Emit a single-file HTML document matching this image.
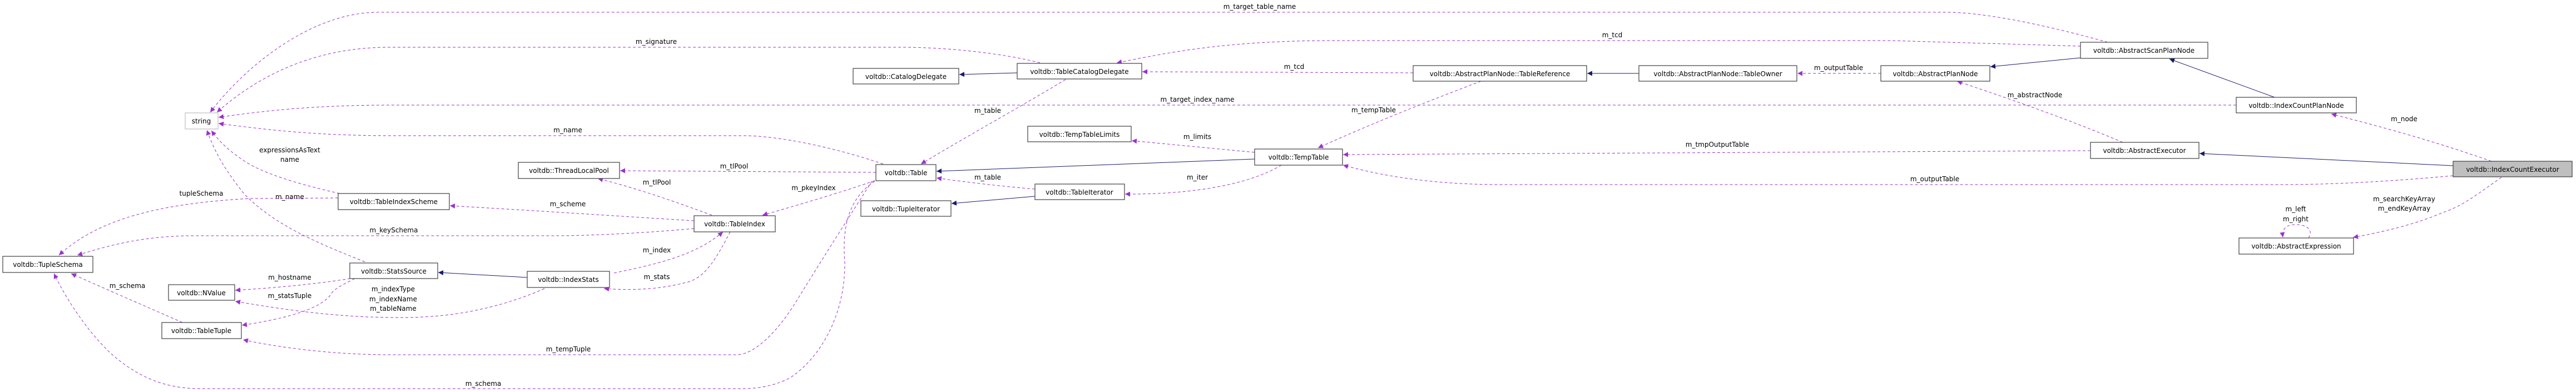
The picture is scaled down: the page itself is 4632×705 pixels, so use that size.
<!DOCTYPE html>
<html><head><meta charset="utf-8"><style>
html,body{margin:0;padding:0;background:#fff;}
svg{display:block;}
text{font-family:"DejaVu Sans","Liberation Sans",sans-serif;font-size:12px;fill:#000;}
.b{fill:#fff;stroke:#404040;stroke-width:1.2;}
.d{fill:none;stroke:#9a32cd;stroke-width:1;stroke-dasharray:5,4;}
.s{fill:none;stroke:#191970;stroke-width:1;}
</style></head><body>
<svg width="4632" height="705" viewBox="0 0 4632 705" xmlns="http://www.w3.org/2000/svg">
<defs>
<marker id="p" viewBox="0 0 10 10" refX="10" refY="5" markerWidth="11" markerHeight="9" markerUnits="userSpaceOnUse" orient="auto"><path d="M0,0 L10,5 L0,10 z" fill="#9a32cd"/></marker>
<marker id="n" viewBox="0 0 10 10" refX="10" refY="5" markerWidth="11" markerHeight="9" markerUnits="userSpaceOnUse" orient="auto"><path d="M0,0 L10,5 L0,10 z" fill="#191970"/></marker>
</defs>

<!-- edges -->
<path class="d" marker-end="url(#p)" d="M3790,76 C3660,40 3560,22 3500,22 L680,22 C560,22 440,120 378,202"/>
<text x="2265" y="16" text-anchor="middle">m_target_table_name</text>
<path class="d" marker-end="url(#p)" d="M1870,113 C1800,95 1700,85 1620,85 L700,85 C560,85 460,140 390,202"/>
<text x="1180" y="79" text-anchor="middle">m_signature</text>
<path class="d" marker-end="url(#p)" d="M3741,83 L3400,73 L2400,73 C2200,73 2100,95 2008,113"/>
<text x="2899" y="67" text-anchor="middle">m_tcd</text>
<path class="d" marker-end="url(#p)" d="M2541,131 L2054,129"/>
<text x="2327" y="124" text-anchor="middle">m_tcd</text>
<path class="d" marker-end="url(#p)" d="M4021,189 L705,189 C560,189 470,200 393,211"/>
<text x="2153" y="183" text-anchor="middle">m_target_index_name</text>
<path class="d" marker-end="url(#p)" d="M1588,295 C1500,265 1400,244 1336,244 L705,244 C560,244 470,232 393,222"/>
<text x="1021" y="238" text-anchor="middle">m_name</text>
<path class="d" marker-end="url(#p)" d="M611,348 C530,330 470,310 440,290 C410,270 395,255 380,235"/>
<text x="521" y="274" text-anchor="middle">expressionsAsText</text>
<text x="521" y="291" text-anchor="middle">name</text>
<path class="d" marker-end="url(#p)" d="M656,471 C580,440 500,410 440,350 C400,300 385,270 372,234"/>
<text x="521" y="358" text-anchor="middle">m_name</text>
<path class="d" marker-end="url(#p)" d="M608,356 L450,357 C300,365 180,390 106,459"/>
<text x="362" y="352" text-anchor="middle">tupleSchema</text>
<path class="d" marker-end="url(#p)" d="M1248,411 C1150,420 1050,424 1000,424 L350,424 C260,424 200,440 139,459"/>
<text x="708" y="418" text-anchor="middle">m_keySchema</text>
<path class="d" marker-end="url(#p)" d="M328,580 C260,550 190,520 128,492"/>
<text x="229" y="518" text-anchor="middle">m_schema</text>
<path class="d" marker-end="url(#p)" d="M1573,326 C1520,360 1515,420 1519,472 C1520,560 1480,640 1420,680 C1390,695 1360,699 1336,699 L360,699 C300,699 250,680 202,638 C160,600 120,540 97,492"/>
<text x="869" y="694" text-anchor="middle">m_schema</text>
<path class="d" marker-end="url(#p)" d="M1568,326 C1520,400 1470,480 1433,540 C1390,610 1350,638 1325,638 L700,638 C600,638 500,625 437,611"/>
<text x="1022" y="632" text-anchor="middle">m_tempTuple</text>
<path class="d" marker-end="url(#p)" d="M638,501 C610,515 600,520 594,531 C570,560 500,575 435,585"/>
<text x="521" y="536" text-anchor="middle">m_statsTuple</text>
<path class="d" marker-end="url(#p)" d="M630,501 C560,512 490,518 423,522"/>
<text x="521" y="503" text-anchor="middle">m_hostname</text>
<path class="d" marker-end="url(#p)" d="M979,519 C920,545 860,560 800,567 C740,573 705,571 660,570 C560,565 490,553 423,542"/>
<text x="707" y="524" text-anchor="middle">m_indexType</text>
<text x="707" y="542" text-anchor="middle">m_indexName</text>
<text x="707" y="559" text-anchor="middle">m_tableName</text>
<path class="s" marker-end="url(#n)" d="M948,499 L788,490"/>
<path class="d" marker-end="url(#p)" d="M1280,387 C1220,365 1150,340 1075,321"/>
<text x="1181" y="332" text-anchor="middle">m_tlPool</text>
<path class="d" marker-end="url(#p)" d="M1575,310 L1115,307"/>
<text x="1320" y="303" text-anchor="middle">m_tlPool</text>
<path class="d" marker-end="url(#p)" d="M1248,397 C1100,388 950,378 809,370"/>
<text x="1021" y="371" text-anchor="middle">m_scheme</text>
<path class="d" marker-end="url(#p)" d="M1104,491 C1180,475 1250,460 1300,417"/>
<text x="1181" y="454" text-anchor="middle">m_index</text>
<path class="d" marker-end="url(#p)" d="M1313,417 C1290,460 1270,500 1234,508 C1180,522 1130,522 1086,519"/>
<text x="1181" y="502" text-anchor="middle">m_stats</text>
<path class="d" marker-end="url(#p)" d="M1573,325 C1500,350 1430,370 1371,387"/>
<text x="1463" y="342" text-anchor="middle">m_pkeyIndex</text>
<path class="s" marker-end="url(#n)" d="M1829,131 L1725,134"/>
<path class="d" marker-end="url(#p)" d="M1916,143 C1830,195 1730,250 1656,295"/>
<text x="1776" y="203" text-anchor="middle">m_table</text>
<path class="d" marker-end="url(#p)" d="M1861,340 C1800,335 1740,328 1684,320"/>
<text x="1776" y="323" text-anchor="middle">m_table</text>
<path class="s" marker-end="url(#n)" d="M1861,353 L1711,366"/>
<path class="s" marker-end="url(#n)" d="M2256,286 L1684,308"/>
<path class="d" marker-end="url(#p)" d="M2256,274 L2035,253"/>
<text x="2153" y="250" text-anchor="middle">m_limits</text>
<path class="d" marker-end="url(#p)" d="M2304,297 C2250,330 2150,350 2023,349"/>
<text x="2153" y="323" text-anchor="middle">m_iter</text>
<path class="d" marker-end="url(#p)" d="M2663,146 C2560,185 2460,225 2370,266"/>
<text x="2470" y="202" text-anchor="middle">m_tempTable</text>
<path class="d" marker-end="url(#p)" d="M3759,271 L2415,278"/>
<text x="3088" y="264" text-anchor="middle">m_tmpOutputTable</text>
<path class="d" marker-end="url(#p)" d="M4411,316 C4300,326 4200,332 4100,332 L2700,332 C2570,332 2480,315 2415,297"/>
<text x="3479" y="326" text-anchor="middle">m_outputTable</text>
<path class="s" marker-end="url(#n)" d="M2947,132 L2854,132"/>
<path class="d" marker-end="url(#p)" d="M3382,132 L3232,132"/>
<text x="3306" y="126" text-anchor="middle">m_outputTable</text>
<path class="s" marker-end="url(#n)" d="M3741,104 L3579,120"/>
<path class="s" marker-end="url(#n)" d="M4090,175 L3901,106"/>
<path class="d" marker-end="url(#p)" d="M3817,256 C3720,215 3620,180 3519,146"/>
<text x="3659" y="175" text-anchor="middle">m_abstractNode</text>
<path class="s" marker-end="url(#n)" d="M4411,298 L3955,276"/>
<path class="d" marker-end="url(#p)" d="M4480,290 C4380,255 4290,230 4192,205"/>
<text x="4323" y="218" text-anchor="middle">m_node</text>
<path class="d" marker-end="url(#p)" d="M4498,319 C4460,345 4430,370 4393,382 C4340,405 4280,418 4231,427"/>
<text x="4323" y="362" text-anchor="middle">m_searchKeyArray</text>
<text x="4323" y="379" text-anchor="middle">m_endKeyArray</text>
<path class="d" marker-end="url(#p)" d="M4151,428 C4160,415 4150,404 4128,404 C4110,404 4103,412 4105,427"/>
<text x="4128" y="380" text-anchor="middle">m_left</text>
<text x="4128" y="398" text-anchor="middle">m_right</text>

<!-- nodes -->
<rect x="333" y="203" width="59" height="29" fill="#fff" stroke="#bfbfbf" stroke-width="1.2"/><text x="362" y="222" text-anchor="middle">string</text>
<rect class="b" x="5" y="461" width="162" height="29"/><text x="86" y="480" text-anchor="middle">voltdb::TupleSchema</text>
<rect class="b" x="303" y="512" width="119" height="28"/><text x="362" y="531" text-anchor="middle">voltdb::NValue</text>
<rect class="b" x="291" y="580" width="143" height="29"/><text x="362" y="599" text-anchor="middle">voltdb::TableTuple</text>
<rect class="b" x="629" y="473" width="158" height="28"/><text x="708" y="492" text-anchor="middle">voltdb::StatsSource</text>
<rect class="b" x="608" y="348" width="200" height="29"/><text x="708" y="367" text-anchor="middle">voltdb::TableIndexScheme</text>
<rect class="b" x="932" y="292" width="182" height="29"/><text x="1023" y="311" text-anchor="middle">voltdb::ThreadLocalPool</text>
<rect class="b" x="1248" y="388" width="146" height="29"/><text x="1321" y="407" text-anchor="middle">voltdb::TableIndex</text>
<rect class="b" x="948" y="488" width="148" height="29"/><text x="1022" y="507" text-anchor="middle">voltdb::IndexStats</text>
<rect class="b" x="1575" y="296" width="108" height="29"/><text x="1629" y="315" text-anchor="middle">voltdb::Table</text>
<rect class="b" x="1548" y="361" width="162" height="28"/><text x="1629" y="380" text-anchor="middle">voltdb::TupleIterator</text>
<rect class="b" x="1534" y="123" width="190" height="28"/><text x="1629" y="142" text-anchor="middle">voltdb::CatalogDelegate</text>
<rect class="b" x="1829" y="114" width="224" height="28"/><text x="1941" y="133" text-anchor="middle">voltdb::TableCatalogDelegate</text>
<rect class="b" x="1848" y="227" width="186" height="28"/><text x="1941" y="246" text-anchor="middle">voltdb::TempTableLimits</text>
<rect class="b" x="1861" y="331" width="161" height="28"/><text x="1941" y="350" text-anchor="middle">voltdb::TableIterator</text>
<rect class="b" x="2256" y="268" width="158" height="29"/><text x="2335" y="287" text-anchor="middle">voltdb::TempTable</text>
<rect class="b" x="2541" y="118" width="312" height="28"/><text x="2697" y="137" text-anchor="middle">voltdb::AbstractPlanNode::TableReference</text>
<rect class="b" x="2947" y="118" width="284" height="28"/><text x="3089" y="137" text-anchor="middle">voltdb::AbstractPlanNode::TableOwner</text>
<rect class="b" x="3382" y="118" width="196" height="28"/><text x="3480" y="137" text-anchor="middle">voltdb::AbstractPlanNode</text>
<rect class="b" x="3741" y="76" width="229" height="29"/><text x="3855" y="95" text-anchor="middle">voltdb::AbstractScanPlanNode</text>
<rect class="b" x="3759" y="256" width="195" height="29"/><text x="3856" y="275" text-anchor="middle">voltdb::AbstractExecutor</text>
<rect class="b" x="4021" y="175" width="216" height="28"/><text x="4129" y="194" text-anchor="middle">voltdb::IndexCountPlanNode</text>
<rect x="4411" y="290" width="214" height="28" fill="#bfbfbf" stroke="#404040" stroke-width="1.2"/><text x="4518" y="309" text-anchor="middle">voltdb::IndexCountExecutor</text>
<rect class="b" x="4026" y="428" width="206" height="29"/><text x="4129" y="447" text-anchor="middle">voltdb::AbstractExpression</text>
</svg>
</body></html>
